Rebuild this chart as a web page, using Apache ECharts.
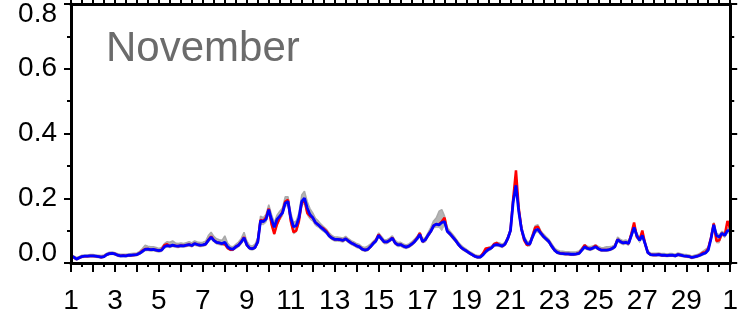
<!DOCTYPE html>
<html><head><meta charset="utf-8">
<script src="https://cdn.jsdelivr.net/npm/echarts@6/dist/echarts.min.js"></script>
<style>html,body{margin:0;padding:0;background:#fff}#c{width:741px;height:321px}</style>
</head><body><div id="c"></div>
<script>
// Day-of-month sampling: 8 samples per day (3-hourly), day 1 00h .. Dec 1 00h
const samplesPerDay = 8;
const firstDay = 1;
const xTickLabels = ['1','3','5','7','9','11','13','15','17','19','21','23','25','27','29','1'];
const title = 'November';
const blue = [
0.022,0.018,0.012,0.016,0.020,0.021,0.021,0.022,
0.022,0.021,0.020,0.018,0.020,0.026,0.029,0.030,
0.028,0.024,0.022,0.023,0.022,0.024,0.024,0.025,
0.026,0.030,0.036,0.042,0.043,0.041,0.042,0.040,
0.038,0.040,0.050,0.054,0.052,0.055,0.053,0.052,
0.054,0.053,0.055,0.057,0.054,0.060,0.057,0.055,
0.056,0.058,0.070,0.080,0.070,0.064,0.062,0.060,
0.064,0.050,0.044,0.043,0.050,0.055,0.065,0.078,
0.056,0.046,0.044,0.048,0.065,0.130,0.128,0.135,
0.165,0.135,0.110,0.135,0.145,0.155,0.185,0.190,
0.140,0.112,0.115,0.140,0.190,0.200,0.170,0.150,
0.140,0.125,0.118,0.110,0.103,0.095,0.084,0.077,
0.073,0.073,0.072,0.070,0.075,0.068,0.062,0.058,
0.053,0.050,0.043,0.040,0.042,0.050,0.060,0.068,
0.085,0.075,0.065,0.065,0.070,0.077,0.062,0.056,
0.057,0.052,0.049,0.052,0.058,0.065,0.075,0.088,
0.066,0.072,0.086,0.098,0.115,0.120,0.118,0.125,
0.128,0.098,0.090,0.080,0.070,0.058,0.048,0.042,
0.037,0.031,0.026,0.021,0.018,0.018,0.025,0.035,
0.042,0.046,0.055,0.057,0.055,0.052,0.058,0.075,
0.100,0.190,0.240,0.160,0.105,0.075,0.060,0.058,
0.080,0.100,0.104,0.092,0.082,0.074,0.066,0.052,
0.040,0.033,0.030,0.029,0.028,0.028,0.027,0.027,
0.028,0.030,0.040,0.050,0.045,0.043,0.046,0.050,
0.044,0.040,0.040,0.040,0.041,0.045,0.050,0.072,
0.066,0.062,0.064,0.060,0.085,0.110,0.085,0.070,
0.085,0.060,0.032,0.026,0.025,0.025,0.026,0.024,
0.024,0.023,0.024,0.024,0.022,0.026,0.024,0.022,
0.021,0.020,0.017,0.019,0.021,0.024,0.028,0.031,
0.040,0.075,0.118,0.085,0.080,0.092,0.085,0.100,
0.100];
const red = [
0.022,0.018,0.012,0.016,0.020,0.021,0.021,0.022,
0.022,0.021,0.020,0.018,0.020,0.026,0.029,0.030,
0.028,0.024,0.022,0.023,0.022,0.024,0.024,0.025,
0.026,0.031,0.038,0.043,0.043,0.041,0.042,0.040,
0.038,0.041,0.055,0.058,0.052,0.055,0.053,0.052,
0.054,0.053,0.055,0.057,0.054,0.060,0.057,0.055,
0.056,0.058,0.071,0.082,0.070,0.064,0.062,0.060,
0.058,0.046,0.041,0.042,0.050,0.055,0.066,0.080,
0.056,0.046,0.044,0.048,0.066,0.133,0.130,0.140,
0.168,0.120,0.090,0.120,0.140,0.158,0.190,0.195,
0.130,0.095,0.100,0.130,0.185,0.195,0.155,0.145,
0.140,0.125,0.118,0.111,0.106,0.098,0.085,0.077,
0.073,0.073,0.072,0.070,0.075,0.068,0.062,0.058,
0.053,0.050,0.043,0.040,0.042,0.050,0.061,0.070,
0.088,0.075,0.065,0.065,0.070,0.078,0.062,0.056,
0.057,0.052,0.049,0.052,0.058,0.066,0.077,0.092,
0.066,0.072,0.086,0.098,0.115,0.120,0.120,0.128,
0.140,0.098,0.090,0.080,0.070,0.058,0.048,0.042,
0.037,0.031,0.026,0.021,0.018,0.019,0.030,0.045,
0.046,0.046,0.058,0.062,0.055,0.052,0.058,0.076,
0.100,0.200,0.286,0.170,0.105,0.070,0.055,0.058,
0.082,0.110,0.112,0.094,0.082,0.074,0.066,0.052,
0.040,0.033,0.030,0.029,0.028,0.028,0.027,0.027,
0.028,0.031,0.042,0.055,0.046,0.043,0.047,0.054,
0.044,0.040,0.040,0.040,0.041,0.045,0.051,0.073,
0.066,0.062,0.064,0.060,0.090,0.125,0.080,0.072,
0.100,0.060,0.032,0.026,0.025,0.025,0.026,0.024,
0.024,0.023,0.024,0.024,0.022,0.026,0.024,0.022,
0.021,0.020,0.017,0.019,0.021,0.025,0.032,0.033,
0.045,0.078,0.122,0.068,0.070,0.092,0.086,0.130,
0.105];
const grayHigh = [
0.026,0.022,0.017,0.020,0.024,0.025,0.025,0.026,
0.026,0.025,0.024,0.023,0.025,0.030,0.033,0.034,
0.032,0.029,0.027,0.027,0.027,0.028,0.029,0.030,
0.031,0.036,0.045,0.055,0.052,0.050,0.050,0.048,
0.045,0.048,0.060,0.066,0.064,0.068,0.062,0.060,
0.062,0.060,0.063,0.066,0.062,0.068,0.065,0.063,
0.064,0.067,0.085,0.095,0.082,0.075,0.072,0.070,
0.084,0.062,0.052,0.050,0.058,0.065,0.076,0.095,
0.068,0.055,0.052,0.058,0.078,0.145,0.140,0.150,
0.180,0.150,0.125,0.148,0.160,0.170,0.205,0.205,
0.155,0.125,0.130,0.155,0.210,0.222,0.190,0.168,
0.155,0.138,0.130,0.120,0.112,0.104,0.093,0.085,
0.080,0.080,0.079,0.077,0.082,0.075,0.069,0.065,
0.060,0.057,0.050,0.048,0.052,0.058,0.067,0.075,
0.093,0.083,0.072,0.072,0.077,0.084,0.070,0.063,
0.064,0.059,0.056,0.059,0.065,0.073,0.083,0.095,
0.075,0.078,0.094,0.110,0.130,0.140,0.160,0.165,
0.145,0.110,0.098,0.088,0.077,0.065,0.055,0.048,
0.042,0.036,0.031,0.026,0.023,0.023,0.030,0.040,
0.048,0.052,0.061,0.064,0.062,0.058,0.064,0.082,
0.108,0.200,0.265,0.175,0.115,0.082,0.067,0.065,
0.090,0.115,0.118,0.100,0.090,0.081,0.073,0.060,
0.047,0.040,0.037,0.036,0.035,0.035,0.034,0.034,
0.035,0.037,0.047,0.057,0.052,0.050,0.053,0.056,
0.051,0.047,0.048,0.050,0.050,0.052,0.056,0.080,
0.073,0.069,0.071,0.067,0.093,0.120,0.093,0.077,
0.093,0.067,0.038,0.031,0.030,0.030,0.031,0.029,
0.029,0.028,0.029,0.029,0.027,0.031,0.029,0.027,
0.026,0.025,0.022,0.024,0.026,0.030,0.036,0.042,
0.048,0.082,0.125,0.092,0.087,0.098,0.092,0.108,
0.108];
const grayLow = [
0.018,0.014,0.009,0.012,0.016,0.017,0.017,0.018,
0.018,0.017,0.016,0.015,0.016,0.022,0.025,0.026,
0.024,0.020,0.018,0.019,0.018,0.020,0.020,0.021,
0.022,0.026,0.031,0.037,0.038,0.036,0.037,0.035,
0.033,0.035,0.045,0.049,0.047,0.050,0.048,0.047,
0.049,0.048,0.050,0.052,0.049,0.054,0.052,0.050,
0.051,0.053,0.064,0.073,0.064,0.058,0.056,0.054,
0.055,0.043,0.038,0.038,0.044,0.049,0.058,0.070,
0.050,0.041,0.039,0.043,0.058,0.120,0.118,0.125,
0.152,0.115,0.088,0.115,0.132,0.145,0.175,0.178,
0.122,0.090,0.095,0.122,0.175,0.185,0.148,0.135,
0.128,0.115,0.110,0.102,0.096,0.088,0.078,0.071,
0.067,0.067,0.066,0.064,0.069,0.062,0.056,0.052,
0.047,0.044,0.038,0.035,0.037,0.045,0.054,0.062,
0.078,0.069,0.059,0.059,0.064,0.071,0.056,0.050,
0.051,0.046,0.044,0.047,0.052,0.059,0.069,0.080,
0.062,0.064,0.079,0.092,0.108,0.110,0.110,0.100,
0.118,0.092,0.083,0.073,0.064,0.052,0.043,0.037,
0.032,0.027,0.022,0.017,0.014,0.014,0.021,0.030,
0.037,0.041,0.050,0.052,0.050,0.047,0.053,0.068,
0.092,0.178,0.228,0.150,0.097,0.068,0.052,0.052,
0.073,0.092,0.096,0.085,0.075,0.068,0.060,0.046,
0.035,0.028,0.026,0.025,0.024,0.024,0.023,0.023,
0.024,0.026,0.035,0.044,0.040,0.038,0.041,0.045,
0.039,0.036,0.036,0.036,0.037,0.040,0.045,0.065,
0.060,0.056,0.058,0.054,0.078,0.100,0.077,0.063,
0.077,0.053,0.028,0.022,0.021,0.021,0.022,0.020,
0.020,0.019,0.020,0.020,0.018,0.022,0.020,0.018,
0.017,0.016,0.013,0.015,0.017,0.020,0.024,0.027,
0.034,0.068,0.108,0.062,0.062,0.085,0.078,0.092,
0.094];

const days = blue.map((_, i) => firstDay + i / samplesPerDay);
const pair = arr => arr.map((v, i) => [days[i], v]);

const FONT = "'Liberation Sans', Arial, Helvetica, sans-serif";
const chart = echarts.init(document.getElementById('c'), null, {renderer: 'canvas'});
const labelFor = v => {
  const k = Math.round(v - firstDay);
  if (Math.abs(v - Math.round(v)) > 1e-6 || k % 2 !== 0) return '';
  return xTickLabels[k / 2] || '';
};
const axisLineStyle = {color: '#000', width: 3};
const xCommon = {
  type: 'value', min: 1, max: 31, interval: 1, z: 10,
  axisLine: {show: true, onZero: false, lineStyle: axisLineStyle},
  axisTick: {show: true, inside: false, length: 9, lineStyle: {color: '#000', width: 2}},
  minorTick: {show: true, splitNumber: 2, length: 4, lineStyle: {color: '#000', width: 2}},
  splitLine: {show: false}, minorSplitLine: {show: false}
};
const yCommon = {
  type: 'value', min: 0, max: 0.8, interval: 0.2, z: 10,
  axisLine: {show: true, onZero: false, lineStyle: axisLineStyle},
  axisTick: {show: true, inside: false, length: 7, lineStyle: {color: '#000', width: 2}},
  minorTick: {show: true, splitNumber: 2, length: 4, lineStyle: {color: '#000', width: 2}},
  splitLine: {show: false}, minorSplitLine: {show: false}
};
const lblStyle = {fontSize: 28, fontFamily: FONT, color: '#000'};
chart.setOption({
  animation: false,
  backgroundColor: '#fff',
  grid: {left: 71, right: 6, top: 4, bottom: 58, containLabel: false},
  graphic: [{type: 'text', left: 106, top: 28, z: 100,
    style: {text: title, font: '42px ' + FONT, fill: '#6b6b6b'}}],
  xAxis: [
    Object.assign({}, xCommon, {position: 'bottom',
      axisLabel: {show: true, margin: 24, fontSize: 28, fontFamily: FONT, color: '#000',
        showMinLabel: true, showMaxLabel: true, hideOverlap: false, formatter: labelFor}}),
    Object.assign({}, xCommon, {position: 'top', axisLabel: {show: false}})
  ],
  yAxis: [
    Object.assign({}, yCommon, {position: 'left',
      axisLabel: {show: true, margin: 14, fontSize: 28, fontFamily: FONT, color: '#000',
        showMinLabel: true, showMaxLabel: true,
        formatter: v => {
          if (Math.abs(v) < 1e-9) return '{lo|0.0}';
          if (Math.abs(v - 0.8) < 1e-9) return '{hi|0.8}';
          return v.toFixed(1);
        },
        rich: {lo: Object.assign({padding: [0, 0, 20, 0]}, lblStyle),
               hi: Object.assign({padding: [20, 0, 0, 0]}, lblStyle)}}}),
    Object.assign({}, yCommon, {position: 'right', axisLabel: {show: false}})
  ],
  series: [
    {type: 'line', name: 'grayHigh', data: pair(grayHigh), symbol: 'none',
     lineStyle: {color: '#a9a9a9', width: 1.5},
     areaStyle: {color: '#b4b4b4', opacity: 1, origin: 'start'}, silent: true, z: 1},
    {type: 'line', name: 'grayLow', data: pair(grayLow), symbol: 'none',
     lineStyle: {color: '#b4b4b4', width: 1},
     areaStyle: {color: '#ffffff', opacity: 1, origin: 'start'}, silent: true, z: 1.5},
    {type: 'line', name: 'red', data: pair(red), symbol: 'none',
     lineStyle: {color: '#ff0000', width: 2.5}, z: 2},
    {type: 'line', name: 'blue', data: pair(blue), symbol: 'none',
     lineStyle: {color: '#0000ff', width: 2.8}, z: 3}
  ]
});
</script></body></html>
